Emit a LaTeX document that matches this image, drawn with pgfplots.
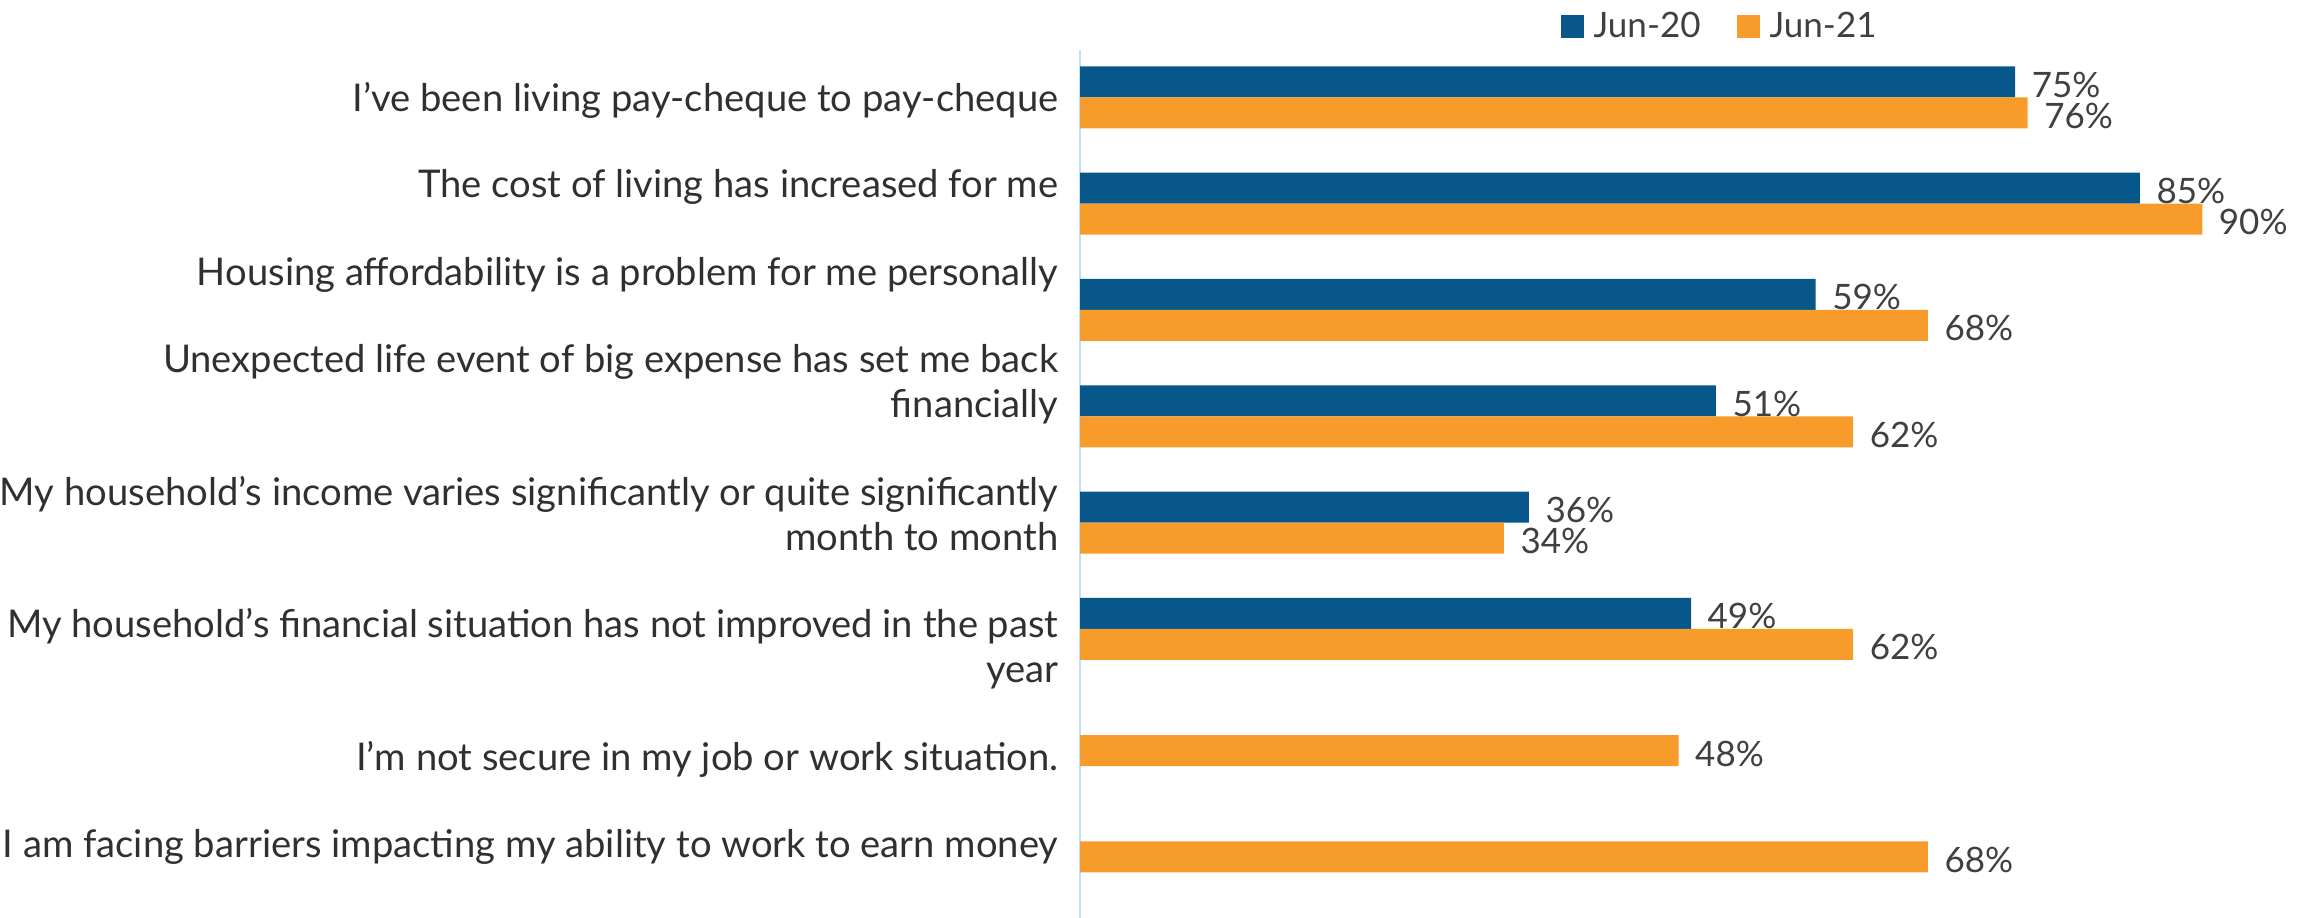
\documentclass[border=0pt]{standalone}
\usepackage{fontspec}
\setmainfont{Lato}
\usepackage{pgfplots}
\pgfplotsset{compat=1.18}
\definecolor{cblue}{HTML}{08578A}
\definecolor{corange}{HTML}{F79C2B}
\definecolor{caxis}{HTML}{BFE0F4}
\definecolor{ctext}{HTML}{303030}
\definecolor{clabel}{HTML}{404040}
\begin{document}
\begin{tikzpicture}
\path[use as bounding box] (0,0) rectangle (695.4pt,275.4pt);
\begin{axis}[
  at={(324pt,0pt)}, anchor=south west, scale only axis,
  width=370.35pt, height=260.28pt,
  xmin=0, xmax=99, ymin=-0.442, ymax=7.72, y dir=reverse,
  clip=false,
  /pgf/number format/assume math mode=true,
  axis x line=none, axis y line*=left,
  y axis line style={draw=caxis, line width=0.6pt, -},
  xtick=\empty,
  ytick={0.129,0.938,1.769,3.010,4.262,5.503,6.331,7.150},
  yticklabels={
    {I’ve been living pay-cheque to pay-cheque},
    {The cost of living has increased for me},
    {Housing affordability is a problem for me personally},
    {Unexpected life event of big expense has set me back\\financially},
    {My household’s income varies significantly or quite significantly\\month to month},
    {My household’s financial situation has not improved in the past\\year},
    {I'm not secure in my job or work situation.},
    {I am facing barriers impacting my ability to work to earn money}},
  major tick length=0pt,
  yticklabel style={anchor=base east, align=right, inner sep=0pt, xshift=-6.3pt,
    font=\fontsize{11.45}{13.5}\selectfont, text=ctext},
  xbar, bar width=9.3pt,
  point meta=x,
  nodes near coords={\pgfmathprintnumber[assume math mode=true]{\pgfplotspointmeta}\%},
  nodes near coords style={anchor=base west, font=\fontsize{10.5}{12}\selectfont,
    text=clabel, inner sep=0pt, xshift=4.8pt, yshift=-4.65pt},
  legend style={draw=none, fill=none, at={(rel axis cs:0.3888,1.0271)}, anchor=west,
    inner sep=0pt, legend columns=2, font=\fontsize{10.5}{12}\selectfont,
    text=clabel, nodes={inner sep=0pt},
    /tikz/every odd column/.append style={column sep=3pt},
    /tikz/every even column/.append style={column sep=10.8pt}},
  legend image code/.code={\fill[#1] (0pt,-3.45pt) rectangle (6.9pt,3.45pt);},
]
\addplot[fill=cblue, draw=none, bar shift=4.65pt] coordinates {
  (75,0) (85,1) (59,2) (51,3) (36,4) (49,5)};
\addlegendentry{Jun-20}
\addplot[fill=corange, draw=none, bar shift=-4.65pt] coordinates {
  (76,0) (90,1) (68,2) (62,3) (34,4) (62,5) (48,6) (68,7)};
\addlegendentry{Jun-21}
\end{axis}
\end{tikzpicture}
\end{document}
